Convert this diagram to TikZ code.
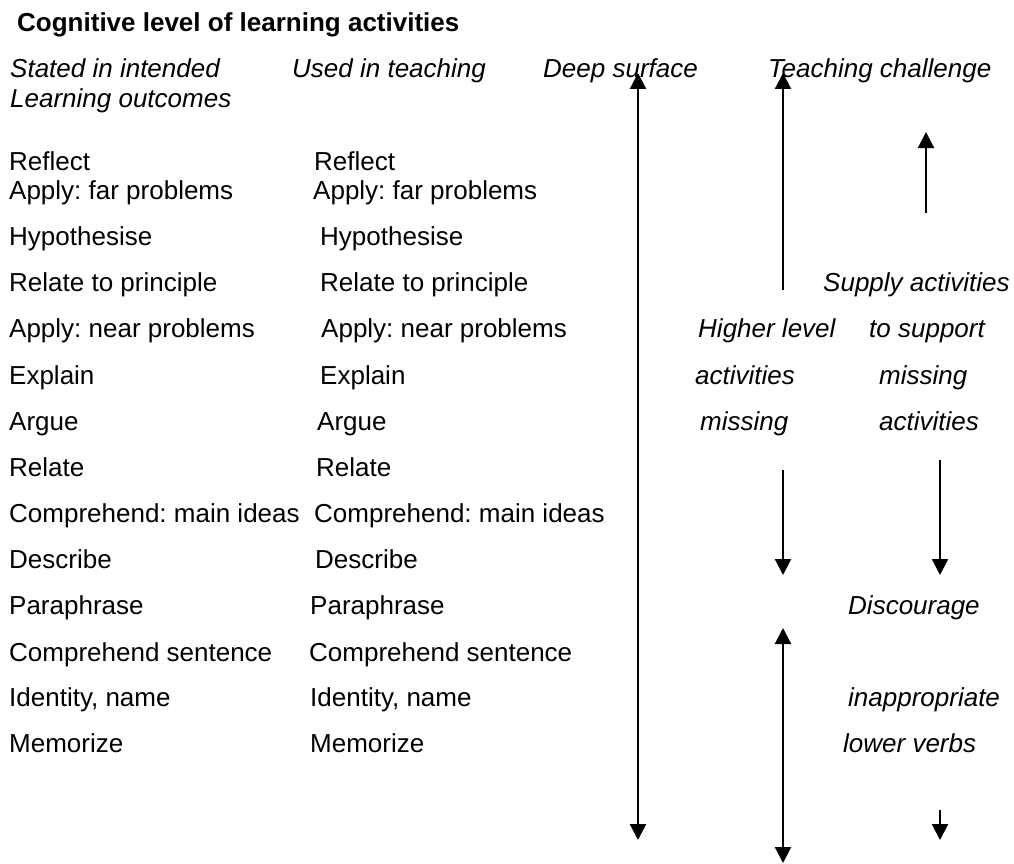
\documentclass[tikz,border=0pt]{standalone}
\usepackage{fontspec}
\setmainfont{Liberation Sans}
\usetikzlibrary{arrows.meta}
\frenchspacing

\begin{document}
\begin{tikzpicture}[x=1pt,y=-1pt,
        every node/.style={anchor=base west,inner sep=0pt,font=\fontsize{26}{31}\selectfont},
        head/.style={font=\fontsize{26}{31}\selectfont\itshape},
        arr/.style={line width=2.2pt,-{Triangle[length=16pt,width=16pt]}},
        darr/.style={line width=2.2pt,{Triangle[length=16pt,width=16pt]}-{Triangle[length=16pt,width=16pt]}}]
        \useasboundingbox (0,0) rectangle (1014,864);

        % Title and column heads
        \node[font=\fontsize{26}{31}\selectfont\bfseries] (title) at (17,32) {Cognitive level of learning activities};
        \node[head] (stated) at (10,78) {Stated in intended};
        \node[head] (stated2) at (10,108) {Learning outcomes};
        \node[head] (used) at (292,78) {Used in teaching};
        \node[head] (deep) at (543,78) {Deep surface};
        \node[head] (challenge) at (768,78) {Teaching challenge};

        % Stated in intended learning outcomes
        \node (s1) at (9,170) {Reflect};
        \node (s2) at (9,199) {Apply: far problems};
        \node (s3) at (9,245) {Hypothesise};
        \node (s4) at (9,291) {Relate to principle};
        \node (s5) at (9,337) {Apply: near problems};
        \node (s6) at (9,384) {Explain};
        \node (s7) at (9,430) {Argue};
        \node (s8) at (9,476) {Relate};
        \node (s9) at (9,522) {Comprehend: main ideas};
        \node (s10) at (9,568) {Describe};
        \node (s11) at (9,614) {Paraphrase};
        \node (s12) at (9,661) {Comprehend sentence};
        \node (s13) at (9,706) {Identity, name};
        \node (s14) at (9,752) {Memorize};

        % Used in teaching
        \node (u1) at (314,170) {Reflect};
        \node (u2) at (313,199) {Apply: far problems};
        \node (u3) at (320,245) {Hypothesise};
        \node (u4) at (320,291) {Relate to principle};
        \node (u5) at (321,337) {Apply: near problems};
        \node (u6) at (320,384) {Explain};
        \node (u7) at (317,430) {Argue};
        \node (u8) at (316,476) {Relate};
        \node (u9) at (314,522) {Comprehend: main ideas};
        \node (u10) at (315,568) {Describe};
        \node (u11) at (310,614) {Paraphrase};
        \node (u12) at (309,661) {Comprehend sentence};
        \node (u13) at (310,706) {Identity, name};
        \node (u14) at (310,752) {Memorize};

        % Teaching challenge texts
        \node[head] (supply) at (823,291) {Supply activities};
        \node[head] (higher) at (698,337) {Higher level};
        \node[head] (support) at (869,337) {to support};
        \node[head] (hact) at (695,384) {activities};
        \node[head] (smiss) at (879,384) {missing};
        \node[head] (hmiss) at (700,430) {missing};
        \node[head] (sact) at (879,430) {activities};
        \node[head] (discourage) at (848,614) {Discourage};
        \node[head] (inapp) at (848,706) {inappropriate};
        \node[head] (lower) at (843,752) {lower verbs};

        % Arrow end points
        \coordinate (deepTop) at (638,73);
        \coordinate (deepBot) at (638,840);
        \coordinate (highTop) at (783,73);
        \coordinate (highBot) at (783,290);
        \coordinate (missTop) at (783,470);
        \coordinate (missBot) at (783,575);
        \coordinate (lowTop) at (783,628);
        \coordinate (lowBot) at (783,863);
        \coordinate (supTop) at (926,132);
        \coordinate (supBot) at (926,213);
        \coordinate (actTop) at (940,460);
        \coordinate (actBot) at (940,575);
        \coordinate (verbTop) at (940,810);
        \coordinate (verbBot) at (940,840);

        % Draw arrows
        \draw[darr] (deepTop) -- (deepBot);
        \draw[arr] (highBot) -- (highTop);
        \draw[arr] (missTop) -- (missBot);
        \draw[darr] (lowTop) -- (lowBot);
        \draw[arr] (supBot) -- (supTop);
        \draw[arr] (actTop) -- (actBot);
        \draw[arr] (verbTop) -- (verbBot);

\end{tikzpicture}
\end{document}
